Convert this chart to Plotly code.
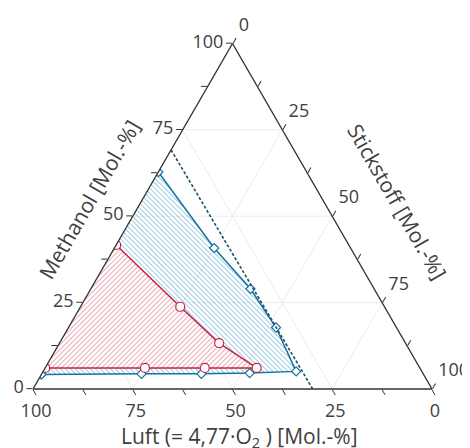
import math
import plotly.graph_objects as go

# Data (Mol.-%): a = Methanol, b = Luft, c = Stickstoff
blue_methanol = [62.8, 40.8, 29.0, 17.8, 5.1, 4.6, 4.4, 4.4, 4.2]
blue_stickstoff = [0.0, 25.0, 40.0, 52.0, 63.4, 52.0, 40.0, 25.0, 0.0]
blue_luft = [100 - m - n for m, n in zip(blue_methanol, blue_stickstoff)]

red_methanol = [41.7, 23.8, 13.3, 6.1, 6.1, 6.1, 6.1]
red_stickstoff = [0.0, 25.0, 40.0, 53.0, 40.0, 25.0, 0.0]
red_luft = [100 - m - n for m, n in zip(red_methanol, red_stickstoff)]

dash_methanol = [69.2, 0.0]
dash_stickstoff = [0.0, 70.1]
dash_luft = [100 - m - n for m, n in zip(dash_methanol, dash_stickstoff)]

grid_levels = [25, 50, 75]
tick_vals = [0, 12.5, 25, 37.5, 50, 62.5, 75, 87.5, 100]
tick_text = ['0', '', '25', '', '50', '', '75', '', '100']
c_tick_text = [t + '<br>&nbsp;' if t else '' for t in tick_text]

BLUE = '#1272a3'
RED = '#c9203f'
FONT = 'Open Sans'
TXT = '#404040'
SIDE_PX = 399.0
S3 = math.sqrt(3) / 2


def to_xy(a, c):
    a, c = a / 100.0, c / 100.0
    return (c + a / 2.0, a * S3)


def to_ac(x, y):
    a = y / S3
    c = x - a / 2.0
    return 100 * a, 100 * c


def hatch(ms, ns, slope, spacing_px):
    """45-degree hatch lines clipped to polygon, returned in ternary coords."""
    pts = [to_xy(m, n) for m, n in zip(ms, ns)]
    r2 = 1 / math.sqrt(2)
    if slope > 0:   # '/'
        nrm = (r2, -r2); drc = (r2, r2)
    else:           # '\'
        nrm = (r2, r2); drc = (r2, -r2)
    step = spacing_px / SIDE_PX * r2
    proj = [p[0] * nrm[0] + p[1] * nrm[1] for p in pts]
    kmin, kmax = min(proj), max(proj)
    A, B, C = [], [], []
    k = math.floor(kmin / step) * step + step / 2
    n = len(pts)
    while k < kmax:
        hits = []
        for i in range(n):
            p1, p2 = pts[i], pts[(i + 1) % n]
            d1, d2 = proj[i], proj[(i + 1) % n]
            if (d1 - k) * (d2 - k) < 0:
                t = (k - d1) / (d2 - d1)
                hits.append((p1[0] + t * (p2[0] - p1[0]), p1[1] + t * (p2[1] - p1[1])))
        hits.sort(key=lambda p: p[0] * drc[0] + p[1] * drc[1])
        for j in range(0, len(hits) - 1, 2):
            for p in (hits[j], hits[j + 1]):
                aa, cc = to_ac(*p)
                A.append(aa); C.append(cc); B.append(100 - aa - cc)
            A.append(None); B.append(None); C.append(None)
        k += step
    return A, B, C


fig = go.Figure()

# faint grid lines
for g in grid_levels:
    r = 100 - g
    for aa, bb, cc in (([g, g], [r, 0], [0, r]), ([r, 0], [g, g], [0, r]), ([r, 0], [0, r], [g, g])):
        fig.add_trace(go.Scatterternary(a=aa, b=bb, c=cc, mode='lines',
                                        line=dict(color='#ebebeb', width=1), hoverinfo='skip', showlegend=False))

# blue hatch
ha, hb, hc = hatch(blue_methanol, blue_stickstoff, -1, 5)
fig.add_trace(go.Scatterternary(a=ha, b=hb, c=hc, mode='lines', connectgaps=False,
                                line=dict(color='#6cb2d4', width=0.9), hoverinfo='skip', showlegend=False))

# red region: white background then hatch
fig.add_trace(go.Scatterternary(a=red_methanol, b=red_luft, c=red_stickstoff, mode='none', fill='toself',
                                fillcolor='white', hoverinfo='skip', showlegend=False))
ra, rb, rc = hatch(red_methanol, red_stickstoff, 1, 5)
fig.add_trace(go.Scatterternary(a=ra, b=rb, c=rc, mode='lines', connectgaps=False,
                                line=dict(color='#e07a8f', width=0.9), hoverinfo='skip', showlegend=False))

# outlines + markers
fig.add_trace(go.Scatterternary(
    a=blue_methanol, b=blue_luft, c=blue_stickstoff, mode='lines+markers',
    line=dict(color=BLUE, width=1.5),
    marker=dict(symbol='diamond', size=7, color='white', line=dict(color=BLUE, width=1.2)),
    showlegend=False))

fig.add_trace(go.Scatterternary(
    a=red_methanol, b=red_luft, c=red_stickstoff, mode='lines+markers',
    line=dict(color=RED, width=1.5),
    marker=dict(symbol='circle', size=9, color='white', line=dict(color=RED, width=1.2)),
    showlegend=False))

fig.add_trace(go.Scatterternary(
    a=dash_methanol, b=dash_luft, c=dash_stickstoff, mode='lines',
    line=dict(color='#1d4f6e', width=1.6, dash='3px,2px'), showlegend=False))

axis_common = dict(
    tickmode='array', tickvals=tick_vals, ticktext=tick_text,
    ticks='outside', ticklen=6, tickwidth=1.2, tickcolor='#333333',
    showline=True, linecolor='#333333', linewidth=1.4, showgrid=False,
    tickfont=dict(family=FONT, size=18, color=TXT), title=dict(text=''), min=0,
)
c_axis = dict(axis_common, ticktext=c_tick_text)

TITLE_FONT = dict(family=FONT, size=21, color=TXT)

fig.update_layout(
    width=470, height=448,
    margin=dict(l=0, r=0, t=0, b=0),
    paper_bgcolor='white',
    ternary=dict(
        sum=100,
        bgcolor='white',
        domain=dict(x=[25 / 470, 424 / 470], y=[67 / 448, 412.5 / 448]),
        aaxis=axis_common,
        baxis=axis_common,
        caxis=c_axis,
    ),
    font=dict(family=FONT, size=18, color=TXT),
    annotations=[
        dict(text='Methanol [Mol.-%]', x=81 / 470, y=1 - 192 / 448, xref='paper', yref='paper',
             xanchor='center', yanchor='middle',
             showarrow=False, textangle=-60, font=TITLE_FONT),
        dict(text='Stickstoff [Mol.-%]', x=389 / 470, y=1 - 193 / 448, xref='paper', yref='paper',
             xanchor='center', yanchor='middle',
             showarrow=False, textangle=60, font=TITLE_FONT),
        dict(text='Luft (= 4,77·O<sub>2</sub> ) [Mol.-%]', x=231 / 470, y=1 - 429 / 448,
             xref='paper', yref='paper', xanchor='center', yanchor='middle',
             showarrow=False, font=TITLE_FONT),
    ],
)

fig.write_html('out.html')
